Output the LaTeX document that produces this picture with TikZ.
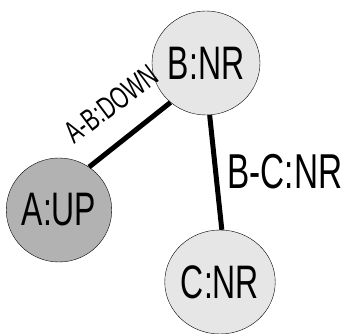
\documentclass[tikz,border=0pt]{standalone}
\usepackage{xcolor}
\usepackage{fontspec}
\usepackage{tikz}
\usetikzlibrary{shapes.geometric}
\newfontfamily\statefont[FakeStretch=0.68]{Liberation Sans}
\definecolor{nrgray}{RGB}{230,230,230}
\definecolor{upgray}{RGB}{178,178,178}

\tikzset{
    router/.style={ellipse, draw=black, thin, fill=nrgray, minimum width=90pt,
        minimum height=104pt, inner sep=0pt, font=\statefont\fontsize{47}{47}\selectfont},
    link/.style={line width=5pt},
    linklabel/.style={inner sep=0pt, font=\statefont\fontsize{49}{49}\selectfont}
}

\begin{document}
\begin{tikzpicture}[x=1pt, y=1pt]
        \useasboundingbox (0,0) rectangle (343,334);
        % routers
        \node[router, fill=upgray] (A) at (59,124) {A:UP};
        \node[router] (B) at (206,271) {B:NR};
        \node[router] (C) at (220,52) {C:NR};
        % links
        \draw[link] (A.55) -- (B.228);
        \draw[link] (B.274) -- (C.88);
        \node[linklabel, font=\statefont\fontsize{31}{31}\selectfont, rotate=37] (ab) at (111,230) {A-B:DOWN};
        \node[linklabel] (bc) at (285,162) {B-C:NR};
    \end{tikzpicture}
\end{document}
